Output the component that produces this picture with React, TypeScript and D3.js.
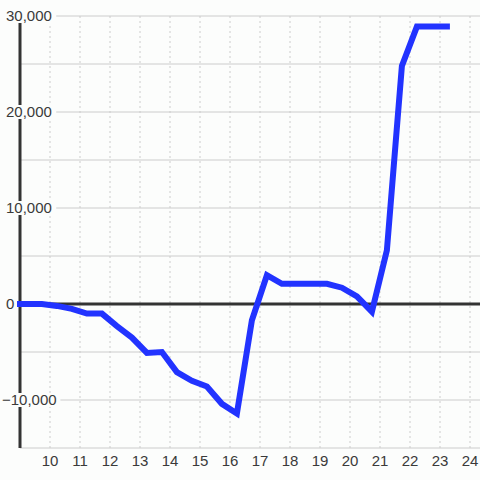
import React from "react";
import * as d3 from "d3";

const xValues = [9.0, 9.73, 10.23, 10.73, 11.23, 11.73, 12.23, 12.73, 13.23, 13.73, 14.23, 14.73, 15.23, 15.73, 16.23, 16.73, 17.23, 17.73, 18.23, 18.73, 19.23, 19.73, 20.23, 20.73, 21.23, 21.73, 22.23, 22.73, 23.23];
const yValues = [0, 0, -200, -500, -1000, -1000, -2300, -3500, -5100, -5000, -7100, -8000, -8600, -10400, -11400, -1700, 3000, 2100, 2100, 2100, 2100, 1700, 800, -800, 5600, 24800, 28900, 28900, 28900];
const xTicks = [10, 11, 12, 13, 14, 15, 16, 17, 18, 19, 20, 21, 22, 23, 24];
const yGrid = [-15000, -10000, -5000, 0, 5000, 10000, 15000, 20000, 25000, 30000];
const yLabels = [-10000, 0, 10000, 20000, 30000];

const W = 480;
const H = 480;
const BG = "#fcfdfc";

export default function App() {
  const x = d3.scaleLinear().domain([9, 24 + 1 / 3]).range([20, 480]);
  const y = d3.scaleLinear().domain([-15000, 30000]).range([448, 16]);
  const fmt = d3.format(",");
  const line = d3
    .line<number>()
    .x((_, i) => x(xValues[i]))
    .y((d) => y(d));
  const font = "'Liberation Sans', Arial, sans-serif";

  return (
    <svg
      width={W}
      height={H}
      style={{ position: "absolute", left: 0, top: 0, display: "block" }}
    >
      <rect x={0} y={0} width={W} height={H} fill={BG} />
      {yGrid.map((v) => (
        <line key={"h" + v} x1={x(9)} x2={W} y1={y(v)} y2={y(v)} stroke="#cccccc" strokeWidth={1} />
      ))}
      {xTicks.map((v) => (
        <line key={"v" + v} x1={x(v)} x2={x(v)} y1={y(30000)} y2={y(-15000)} stroke="#cccccc" strokeWidth={1} strokeDasharray="2,3" />
      ))}
      <line x1={x(9)} x2={x(9)} y1={y(30000)} y2={y(-15000)} stroke="#333333" strokeWidth={3} />
      {yLabels.map((v) => {
        const label = fmt(v);
        const approxW = label.length * 8.2;
        const tx = v < 0 ? 2 : 6;
        return (
          <g key={"yl" + v}>
            {v !== 0 && (
              <rect x={tx - 1} y={y(v) - 7} width={approxW + 2} height={14} fill={BG} />
            )}
            <text
              x={tx}
              y={y(v)}
              dy="0.35em"
              fontFamily={font}
              fontSize={15}
              fill="#3a3a3a"
              textAnchor="start"
            >
              {label}
            </text>
          </g>
        );
      })}
      {xTicks.map((v) => (
        <text
          key={"xl" + v}
          x={x(v)}
          y={466}
          fontFamily={font}
          fontSize={15}
          fill="#3a3a3a"
          textAnchor="middle"
        >
          {v}
        </text>
      ))}
      <line x1={x(9)} x2={W} y1={y(0)} y2={y(0)} stroke="#333333" strokeWidth={3} />
      <path
        d={line(yValues) || ""}
        fill="none"
        stroke="#2233ff"
        strokeWidth={6}
        strokeLinecap="square"
        strokeLinejoin="miter"
      />
    </svg>
  );
}
